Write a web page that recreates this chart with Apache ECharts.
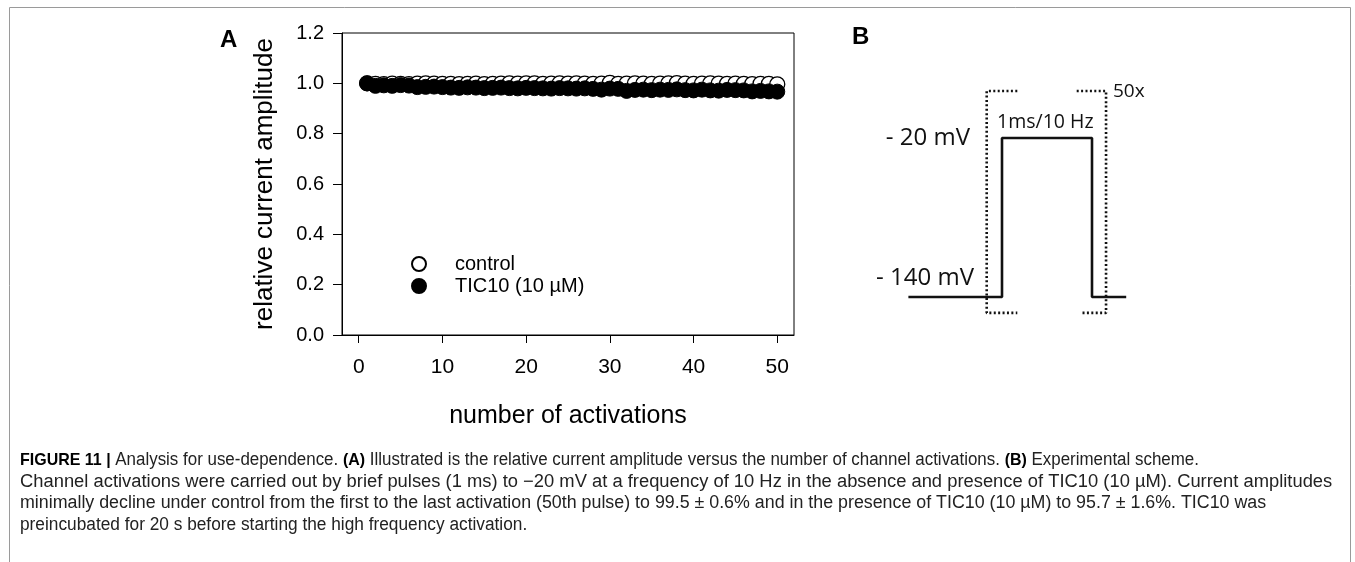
<!DOCTYPE html>
<html>
<head>
<meta charset="utf-8">
<script src="https://cdn.jsdelivr.net/npm/echarts@6/dist/echarts.min.js"></script>
<style>
  html, body { margin: 0; padding: 0; background: #fff; }
  #chart { width: 1355px; height: 562px; }
</style>
</head>
<body>
<div id="chart"></div>
<script>
// panel A: relative current amplitude per activation
const activations = Array.from({ length: 50 }, (_, i) => i + 1);
const controlAmp = [1.000, 0.998, 0.997, 0.999, 0.998, 0.997, 0.999, 1.000, 0.999, 0.998,
    0.998, 0.997, 0.998, 0.999, 0.997, 0.998, 0.999, 1.000, 0.999, 1.000,
    1.000, 0.998, 0.999, 1.000, 0.999, 1.000, 0.999, 0.998, 0.999, 1.002,
    0.998, 0.999, 1.000, 0.999, 0.998, 0.999, 1.000, 1.001, 0.999, 0.998,
    0.999, 1.000, 0.999, 0.998, 0.999, 0.998, 0.997, 0.998, 0.998, 0.996];
const ticAmp = [1.000, 0.990, 0.992, 0.990, 0.993, 0.991, 0.985, 0.986, 0.987, 0.985,
    0.983, 0.982, 0.984, 0.983, 0.981, 0.982, 0.983, 0.981, 0.980, 0.982,
    0.981, 0.980, 0.979, 0.981, 0.980, 0.979, 0.980, 0.978, 0.975, 0.979,
    0.978, 0.970, 0.974, 0.975, 0.973, 0.975, 0.974, 0.976, 0.973, 0.972,
    0.975, 0.972, 0.971, 0.974, 0.973, 0.972, 0.968, 0.970, 0.968, 0.967];
const xTicks = [0, 10, 20, 30, 40, 50];

// panel B: pulse protocol (time in ms relative to pulse onset, voltage in mV)
const pulseTime = [-1.04, 0, 0, 1, 1, 1.38];
const pulseVolt = [-140, -140, -20, -20, -140, -140];
const bracketLeftTime = [0.17, -0.17, -0.17, 0.17];
const bracketLeftVolt = [15.5, 15.5, -152, -152];
const bracketRightTime = [0.83, 1.156, 1.156, 0.878];
const bracketRightVolt = [15.5, 15.5, -152, -152];

const captionLines = [
    '{b|FIGURE 11 |} Analysis for use-dependence. {b|(A)} Illustrated is the relative current amplitude versus the number of channel activations. {b|(B)} Experimental scheme.',
    'Channel activations were carried out by brief pulses (1 ms) to \u221220 mV at a frequency of 10 Hz in the absence and presence of TIC10 (10 \u00b5M). Current amplitudes',
    'minimally decline under control from the first to the last activation (50th pulse) to 99.5 \u00b1 0.6% and in the presence of TIC10 (10 \u00b5M) to 95.7 \u00b1 1.6%. TIC10 was',
    'preincubated for 20 s before starting the high frequency activation.'
];
const captionStretch = [0.94, 1.02, 0.99, 0.96];

const chart = echarts.init(document.getElementById('chart'));
const font = 'Liberation Sans, Arial, sans-serif';
const schemeFont = 'Open Sans, sans-serif';

const zip = (xs, ys) => xs.map((x, i) => [x, ys[i]]);

const captionText = captionLines.map((t, i) => ({
    type: 'text',
    x: 20,
    y: 460 + i * 21.6,
    scaleX: captionStretch[i],
    style: {
        text: t,
        font: '18px "Liberation Sans", Arial, sans-serif',
        fill: '#222',
        verticalAlign: 'middle',
        rich: { b: { fontWeight: 'bold', fontSize: 17, fontFamily: '"Liberation Sans", Arial, sans-serif', fill: '#000' } }
    }
}));

chart.setOption({
    animation: false,
    textStyle: { fontFamily: font },
    grid: [
        { left: 342, top: 33, width: 452, height: 302, show: true, borderColor: '#000', borderWidth: 1, backgroundColor: 'transparent' },
        { left: 903, top: 85, width: 225, height: 238.5, show: false }
    ],
    xAxis: [{
        gridIndex: 0,
        type: 'value',
        min: -2, max: 52,
        name: 'number of activations',
        nameLocation: 'middle',
        nameGap: 69,
        nameTextStyle: { fontSize: 25, color: '#000' },
        axisLine: { onZero: false, lineStyle: { color: '#000', width: 1 } },
        axisTick: { show: true, length: 8, customValues: xTicks, lineStyle: { color: '#000' } },
        axisLabel: { customValues: xTicks, fontSize: 21, color: '#000', margin: 22 },
        splitLine: { show: false }
    }, {
        gridIndex: 1, type: 'value', min: -1.1, max: 1.4, show: false
    }],
    yAxis: [{
        gridIndex: 0,
        type: 'value',
        min: 0, max: 1.2, interval: 0.2,
        name: 'relative current amplitude',
        nameLocation: 'middle',
        nameRotate: 90,
        nameGap: 64,
        nameTextStyle: { fontSize: 26, color: '#000' },
        axisLine: { show: true, onZero: false, lineStyle: { color: '#000', width: 1 } },
        axisTick: { show: true, length: 9, lineStyle: { color: '#000' } },
        axisLabel: { fontSize: 20, color: '#000', margin: 18, formatter: v => v.toFixed(1) },
        splitLine: { show: false }
    }, {
        gridIndex: 1, type: 'value', min: -160, max: 20, show: false
    }],
    legend: {
        left: 406, top: 249,
        orient: 'vertical',
        itemWidth: 14, itemHeight: 14,
        itemGap: 2,
        textStyle: { fontSize: 20, color: '#000', padding: [0, 0, 0, 24] },
        data: ['control', 'TIC10 (10 \u00b5M)']
    },
    series: [{
        name: 'control',
        type: 'scatter',
        xAxisIndex: 0, yAxisIndex: 0,
        symbol: 'circle', symbolSize: 15,
        itemStyle: { color: '#fff', borderColor: '#000', borderWidth: 1.3, opacity: 1 },
        data: zip(activations, controlAmp)
    }, {
        name: 'TIC10 (10 \u00b5M)',
        type: 'scatter',
        xAxisIndex: 0, yAxisIndex: 0,
        symbol: 'circle', symbolSize: 15,
        itemStyle: { color: '#000', borderColor: '#000', borderWidth: 1, opacity: 1 },
        data: zip(activations, ticAmp)
    }, {
        name: 'pulse',
        type: 'line',
        xAxisIndex: 1, yAxisIndex: 1,
        symbol: 'none', clip: false,
        lineStyle: { color: '#111', width: 2.6 },
        data: zip(pulseTime, pulseVolt)
    }, {
        name: 'repeat-left',
        type: 'line',
        xAxisIndex: 1, yAxisIndex: 1,
        symbol: 'none', clip: false,
        lineStyle: { color: '#111', width: 2.6, type: [2, 2.4] },
        data: zip(bracketLeftTime, bracketLeftVolt)
    }, {
        name: 'repeat-right',
        type: 'line',
        xAxisIndex: 1, yAxisIndex: 1,
        symbol: 'none', clip: false,
        lineStyle: { color: '#111', width: 2.6, type: [2, 2.4] },
        data: zip(bracketRightTime, bracketRightVolt)
    }],
    graphic: [
        // outer figure frame
        { type: 'rect', shape: { x: 9.5, y: 7.5, width: 1341, height: 600 }, style: { fill: 'none', stroke: '#9a9a9a', lineWidth: 1 }, silent: true },
        { type: 'text', x: 220, y: 40, style: { text: 'A', font: 'bold 24px "Liberation Sans", Arial, sans-serif', fill: '#000', verticalAlign: 'middle' } },
        { type: 'text', x: 852, y: 37, style: { text: 'B', font: 'bold 24px "Liberation Sans", Arial, sans-serif', fill: '#000', verticalAlign: 'middle' } },
        { type: 'text', x: 970, y: 138, style: { text: '- 20 mV', font: '24px ' + schemeFont, fill: '#111', align: 'right', verticalAlign: 'middle' } },
        { type: 'text', x: 974, y: 278, style: { text: '- 140 mV', font: '24px ' + schemeFont, fill: '#111', align: 'right', verticalAlign: 'middle' } },
        { type: 'text', x: 997, y: 122, style: { text: '1ms/10 Hz', font: '19.5px ' + schemeFont, fill: '#111', align: 'left', verticalAlign: 'middle' } },
        { type: 'text', x: 1113, y: 92, style: { text: '50x', font: '19px ' + schemeFont, fill: '#111', align: 'left', verticalAlign: 'middle' } }
    ].concat(captionText)
});

window.addEventListener('resize', () => chart.resize());
</script>
</body>
</html>
